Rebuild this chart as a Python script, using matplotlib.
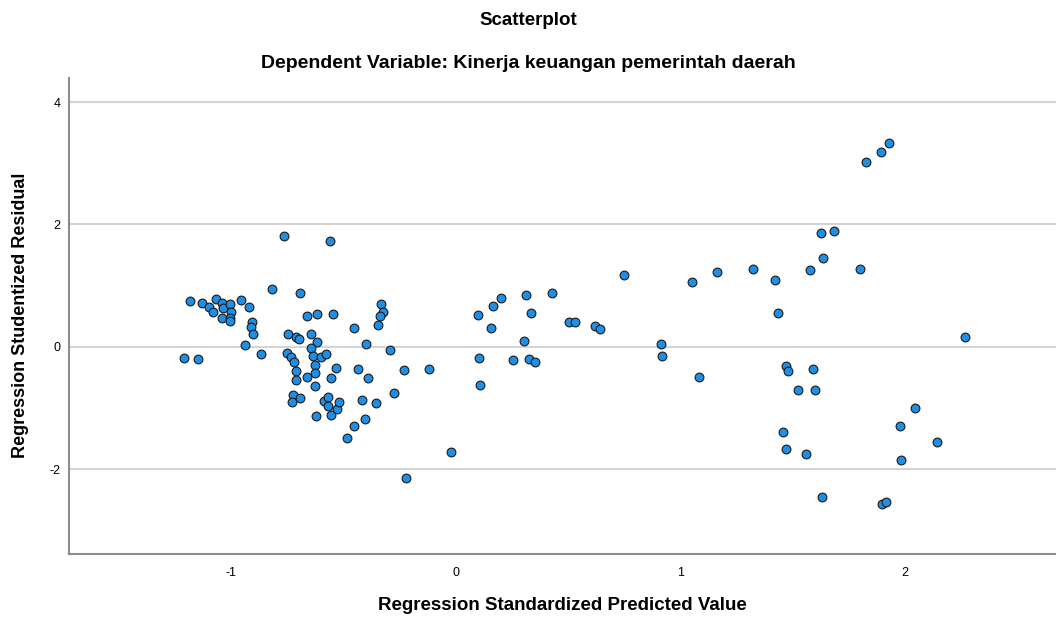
import numpy as np
import matplotlib
matplotlib.use("Agg")
import matplotlib.pyplot as plt

plt.rcParams['font.family'] = ['Liberation Sans', 'DejaVu Sans']
plt.rcParams['axes.unicode_minus'] = False

# regression standardized predicted value (x) and studentized residual (y)
pred = [
    -0.763, -0.561, -1.184, -1.130, -1.097, -1.081, -1.068, -1.039, -1.034, -1.004,
    -1.001, -1.039, -1.003, -1.004, -0.957, -0.920, -0.819, -0.693, -0.907, -0.911,
    -0.903, -0.936, -1.210, -1.148, -0.865, -0.662, -0.616, -0.545, -0.453, -0.748,
    -0.712, -0.699, -0.643, -0.616, -0.644, -0.635, -0.601, -0.579, -0.752, -0.733,
    -0.721, -0.712, -0.709, -0.663, -0.626, -0.626, -0.626, -0.533, -0.554, -0.436,
    -0.723, -0.729, -0.693, -0.623, -0.586, -0.567, -0.570, -0.556, -0.530, -0.521,
    -0.417, -0.334, -0.322, -0.336, -0.346, -0.401, -0.292, -0.392, -0.231, -0.119,
    -0.356, -0.273, -0.402, -0.451, -0.485, -0.021, -0.223, 0.098, 0.167, 0.202,
    0.312, 0.335, 0.157, 0.303, 0.102, 0.256, 0.325, 0.354, 0.107, 0.430,
    0.503, 0.530, 0.620, 0.642, 0.750, 1.052, 0.912, 0.918, 1.083, 1.162,
    1.323, 1.420, 1.434, 1.578, 1.636, 1.799, 1.470, 1.480, 1.590, 1.525,
    1.599, 1.827, 1.893, 1.927, 1.627, 1.685, 2.268, 2.045, 1.977, 2.141,
    1.455, 1.470, 1.559, 1.982, 1.629, 1.896, 1.914,
]
resid = [
    1.810, 1.734, 0.743, 0.721, 0.655, 0.569, 0.776, 0.721, 0.629, 0.694,
    0.569, 0.466, 0.476, 0.422, 0.765, 0.655, 0.944, 0.879, 0.405, 0.328,
    0.204, 0.029, -0.178, -0.199, -0.123, 0.503, 0.531, 0.541, 0.302, 0.204,
    0.160, 0.132, 0.204, 0.078, -0.020, -0.150, -0.162, -0.113, -0.096, -0.162,
    -0.243, -0.391, -0.547, -0.498, -0.302, -0.433, -0.636, -0.351, -0.515, -0.368,
    -0.788, -0.902, -0.832, -1.136, -0.891, -0.815, -0.967, -1.114, -1.011, -0.897,
    -0.869, 0.699, 0.569, 0.498, 0.356, 0.051, -0.047, -0.505, -0.374, -0.358,
    -0.913, -0.750, -1.185, -1.294, -1.495, -1.714, -2.149, 0.525, 0.662, 0.802,
    0.851, 0.557, 0.302, 0.100, -0.188, -0.221, -0.199, -0.253, -0.624, 0.874,
    0.410, 0.410, 0.335, 0.296, 1.168, 1.059, 0.046, -0.145, -0.490, 1.227,
    1.271, 1.087, 0.552, 1.250, 1.451, 1.276, -0.314, -0.395, -0.363, -0.701,
    -0.711, 3.015, 3.178, 3.325, 1.860, 1.892, 0.160, -1.000, -1.289, -1.561,
    -1.392, -1.675, -1.757, -1.850, -2.449, -2.564, -2.531,
]
xticks = [-1, 0, 1, 2]
yticks = [-2, 0, 2, 4]

fig = plt.figure(figsize=(10.56, 6.19), dpi=100)
ax = fig.add_axes([0.0653, 0.1058, 0.9347, 0.768])

ax.set_axisbelow(True)
ax.grid(axis='y', color='#d4d4d4', linewidth=1.5)
ax.scatter(pred, resid, s=40, facecolor='#1f8fe6', edgecolor='#1a1a1a',
           linewidth=0.8, zorder=3)

ax.set_xlim(-1.721, 2.672)
ax.set_ylim(-3.377, 4.392)
ax.set_xticks(xticks)
ax.set_yticks(yticks)
ax.tick_params(length=0, labelsize=9, pad=10)
ax.tick_params(axis='y', pad=6)

for s in ['top', 'right']:
    ax.spines[s].set_visible(False)
for s in ['left', 'bottom']:
    ax.spines[s].set_color('#8c8c8c')
    ax.spines[s].set_linewidth(1.5)

fig.text(0.5, 0.967, 'Scatterplot', ha='center', va='center',
         fontsize=13.5, fontweight='bold')
fig.text(0.5, 0.898, 'Dependent Variable: Kinerja keuangan pemerintah daerah',
         ha='center', va='center', fontsize=14, fontweight='bold')
fig.text(0.5327, 0.022, 'Regression Standardized Predicted Value', ha='center',
         va='center', fontsize=13.5, fontweight='bold')
fig.text(0.019, 0.49, 'Regression Studentized Residual', ha='center',
         va='center', rotation=90, fontsize=13, fontweight='bold')

fig.savefig('out.png', dpi=100)
